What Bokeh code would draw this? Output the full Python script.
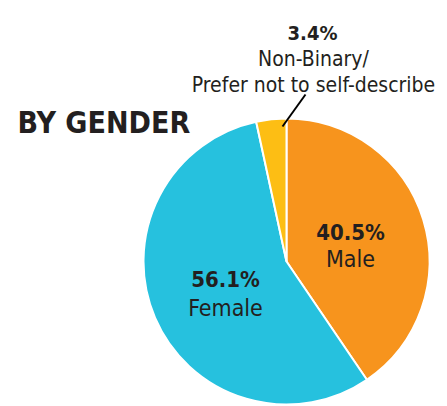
import math
from bokeh.plotting import figure
from bokeh.models import Range1d, ColumnDataSource
from bokeh.core.properties import value
from bokeh.embed import file_html
from bokeh.resources import INLINE

# ---- data ----
categories = ["Male", "Female", "Non-Binary/\nPrefer not to self-describe"]
shares = [40.5, 56.1, 3.4]
colors = ["#F7941D", "#26C1DE", "#FDBE14"]
title_text = "BY GENDER"

FONT = "DejaVu Sans Condensed"
INK = "#231F20"

W, H = 446, 405


def sy(y):  # screen y (px) -> data y
    return 406 - y


p = figure(width=W, height=H, output_backend="svg", toolbar_location=None,
           x_range=Range1d(0, W), y_range=Range1d(406 - H, 406),
           min_border=0)
p.axis.visible = False
p.grid.visible = False
p.outline_line_color = None
p.background_fill_color = "white"

# pie geometry (layout)
cx, cy, r = 286, sy(261), 143

total = sum(shares)
starts, ends = [], []
cum = 0.0
for s in shares:
    starts.append(math.pi / 2 - 2 * math.pi * cum / total)
    cum += s
    ends.append(math.pi / 2 - 2 * math.pi * cum / total)

src = ColumnDataSource(dict(start=starts, end=ends, color=colors))
p.wedge(x=cx, y=cy, radius=r, start_angle="start", end_angle="end",
        direction="clock", fill_color="color", line_color="white",
        line_width=2, source=src)

# title
p.text(x=[17], y=[sy(122)], text=[title_text], text_font=value(FONT),
       text_font_style="bold", text_font_size="30px", text_color=INK,
       text_align="left", text_baseline="alphabetic")

# labels
pct = [f"{s:.1f}%" for s in shares]
lab_pos = [(350, 232, 258), (225, 279, 307)]
for i, (lx, by1, by2) in enumerate(lab_pos):
    p.text(x=[lx], y=[sy(by1)], text=[pct[i]], text_font=value(FONT),
           text_font_style="bold", text_font_size="22px", text_color=INK,
           text_align="center", text_baseline="alphabetic")
    p.text(x=[lx], y=[sy(by2)], text=[categories[i]], text_font=value(FONT),
           text_font_size="23px", text_color=INK,
           text_align="center", text_baseline="alphabetic")

# non-binary callout
p.text(x=[312], y=[sy(32)], text=[pct[2]], text_font=value(FONT),
       text_font_style="bold", text_font_size="20px", text_color=INK,
       text_align="center", text_baseline="alphabetic")
nb_lines = categories[2].split("\n")
for ln, by in zip(nb_lines, [58, 84]):
    p.text(x=[313], y=[sy(by)], text=[ln], text_font=value(FONT),
           text_font_size="21px", text_color=INK,
           text_align="center", text_baseline="alphabetic")
p.segment(x0=[305], y0=[sy(94)], x1=[282], y1=[sy(126)], line_color="black",
          line_width=2)

open("out.html", "w").write(file_html(p, INLINE))
